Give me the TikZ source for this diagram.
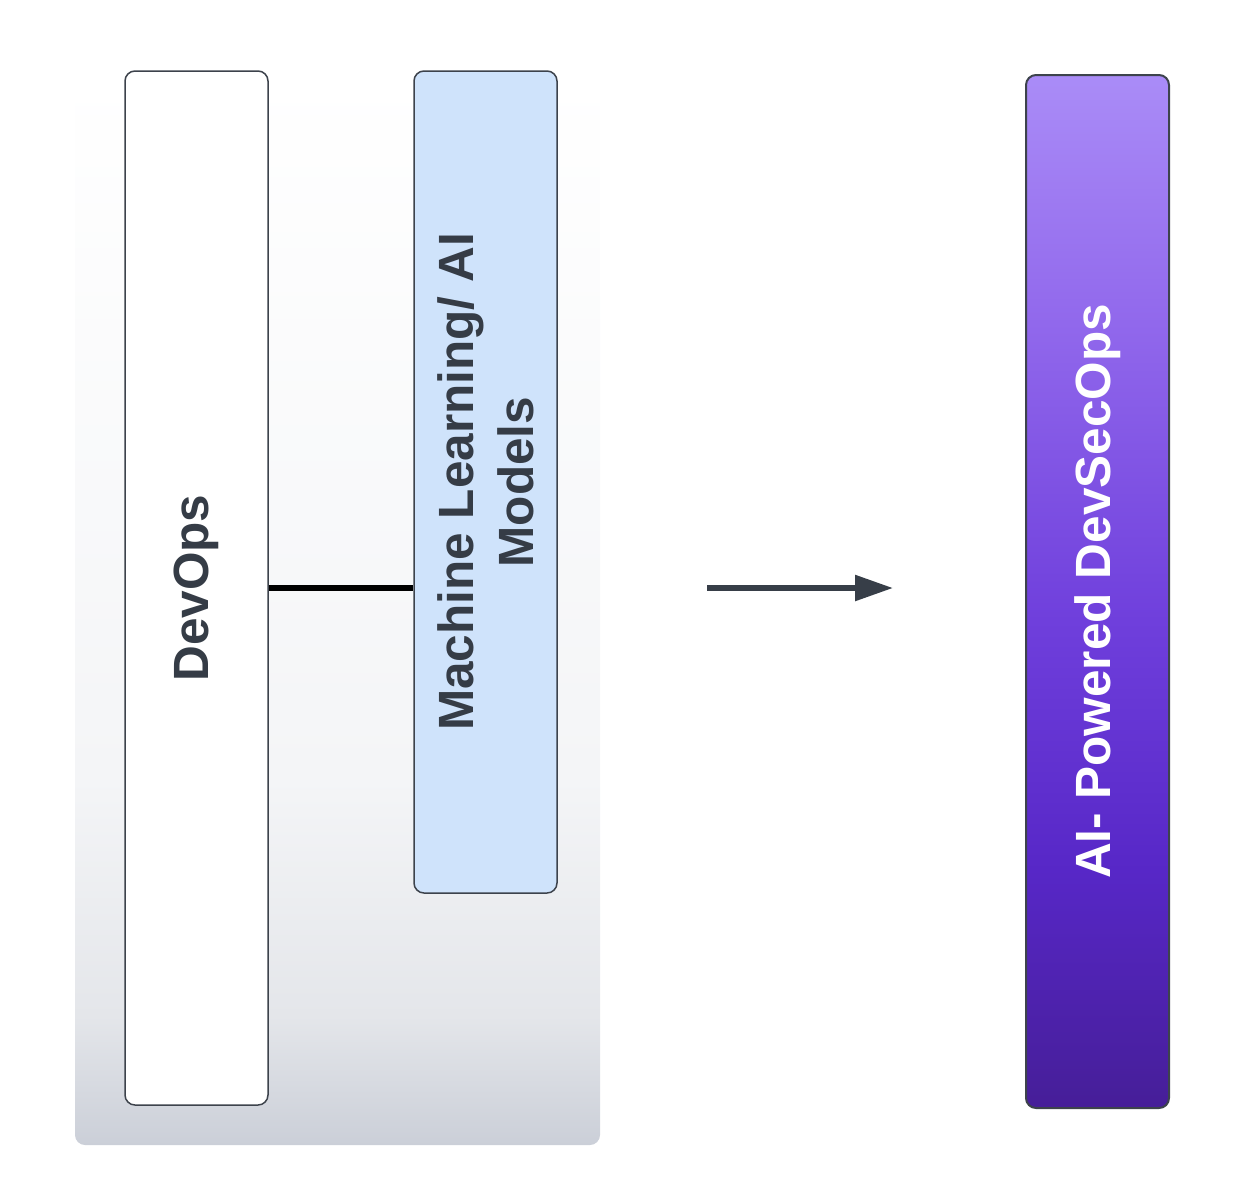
\documentclass[tikz,border=0pt]{standalone}
\usepackage{fontspec}
\setmainfont{Liberation Sans}
\usetikzlibrary{arrows.meta}

\definecolor{boxline}{HTML}{3D434C}
\definecolor{labeltext}{HTML}{353C46}
\definecolor{mlblue}{HTML}{CFE3FB}
\definecolor{purpletop}{HTML}{AA8CF7}
\definecolor{purpleup}{HTML}{9168EC}
\definecolor{purplemid}{HTML}{6F3FDC}
\definecolor{purplelow}{HTML}{5727C7}
\definecolor{purplebot}{HTML}{461E98}
\definecolor{arrowgray}{HTML}{373E48}
\definecolor{panelbot}{HTML}{CBCFD8}
\definecolor{panellow}{HTML}{E4E6EA}
\definecolor{panelmid}{HTML}{F4F5F7}

\pgfdeclareverticalshading{panelshade}{100bp}{color(0bp)=(panelbot); color(25bp)=(panelbot); color(31bp)=(panellow); color(42bp)=(panelmid); color(75bp)=(white); color(100bp)=(white)}
\pgfdeclareverticalshading{purpleshade}{100bp}{color(0bp)=(purplebot); color(25bp)=(purplebot); color(36.5bp)=(purplelow); color(48.6bp)=(purplemid); color(63bp)=(purpleup); color(75bp)=(purpletop); color(100bp)=(purpletop)}

\begin{document}
\begin{tikzpicture}[x=1pt, y=-1pt,
    colbox/.style = {draw=boxline, line width=1.5pt, rounded corners=10pt, rotate=90,
      minimum height=143pt, inner sep=0pt, align=center, text=labeltext,
      font=\fontsize{49.5}{60}\selectfont\bfseries},
    link/.style = {line width=5.5pt, black},
    bigarrow/.style = {line width=5.5pt, arrowgray, -{Triangle[length=38pt, width=25pt]}}]
  \useasboundingbox (0,0) rectangle (1241,1187);

  % background panel
  \shade[shading=panelshade, rounded corners=10pt] (75,70) rectangle (600,1145);

  % columns
  \node[colbox, fill=white, minimum width=1034pt] (devops) at (196.5,588) {DevOps};
  \node[colbox, fill=mlblue, minimum width=822pt] (ml) at (485.5,482) {Machine Learning/ AI\\Models};
  \node[colbox, draw=boxline, line width=2pt, shading=purpleshade,
        text=white, minimum width=1033pt] (aidso) at (1097.5,591.5) {AI- Powered DevSecOps};

  \draw[link] (devops.south) -- (devops.south -| ml.north);

  \coordinate (arrowstart) at (707,588);
  \coordinate (arrowend) at (893,588);
  \draw[bigarrow] (arrowstart) -- (arrowend);
\end{tikzpicture}
\end{document}
